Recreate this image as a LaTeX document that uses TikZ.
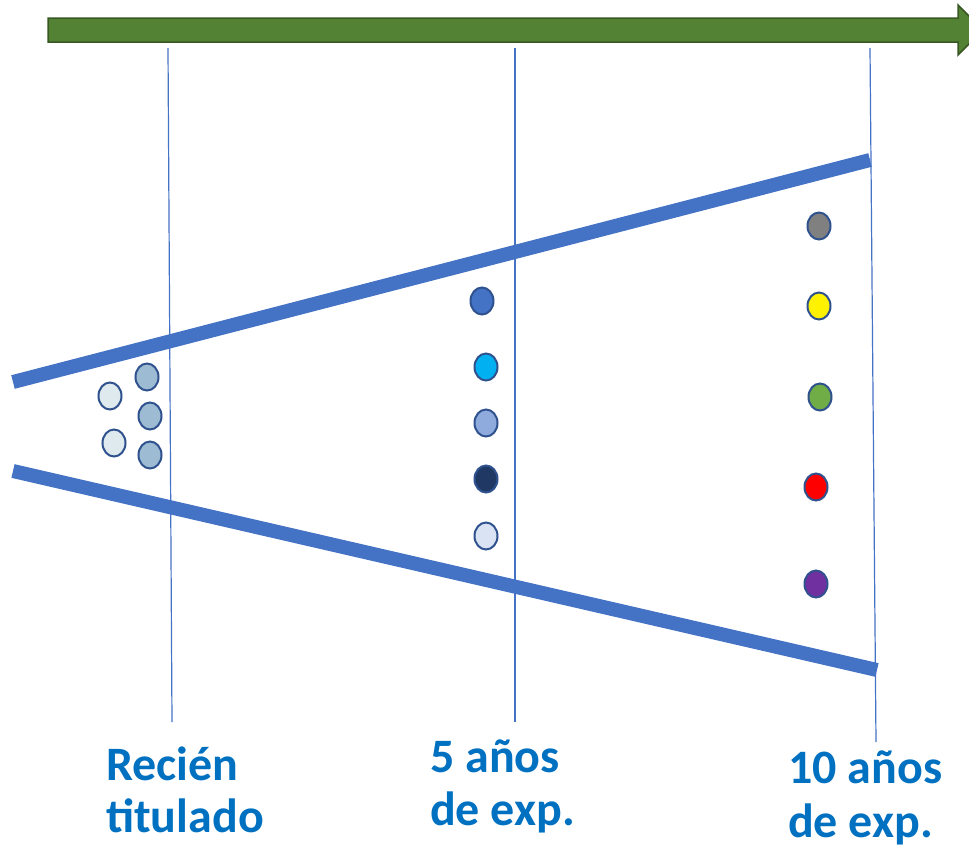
\documentclass[tikz,border=0pt]{standalone}
\usepackage{fontspec}
\setmainfont{Carlito}
\usetikzlibrary{shapes.geometric}

\definecolor{axisgreen}{HTML}{548235}
\definecolor{axisdark}{HTML}{385723}
\definecolor{funnelblue}{HTML}{4472C4}
\definecolor{dotborder}{HTML}{2F528F}
\definecolor{labelblue}{HTML}{0070C0}
\definecolor{palefill}{HTML}{DEEAEE}
\definecolor{slatefill}{HTML}{9DBCD4}

\begin{document}
\begin{tikzpicture}[x=1pt,y=-1pt,
  dot/.style={ellipse,draw=dotborder,line width=2pt,minimum width=23pt,minimum height=27pt,inner sep=0pt},
  stage/.style={draw=funnelblue,line width=1.2pt},
  wall/.style={draw=funnelblue,line width=14pt},
  caption/.style={anchor=base west,inner sep=0pt,text=labelblue,font=\fontsize{48}{54}\selectfont\bfseries}]

  \useasboundingbox (0,0) rectangle (969,849);

  % time axis
  \filldraw[fill=axisgreen,draw=axisdark,line width=1.5pt]
   (48,18) -- (958,18) -- (958,5) -- (983,30) -- (958,55) -- (958,42) -- (48,42) -- cycle;

  % stages
  \draw[stage] (168,48) -- (172,722);
  \draw[stage] (515,48) -- (515,722);
  \draw[stage] (870,48) -- (876,742);

  % funnel
  \draw[wall] (13,382) -- (870,160);
  \draw[wall] (13,471) -- (877,670);

  % recien titulado
  \node[dot,fill=palefill] (a1) at (110,396) {};
  \node[dot,fill=palefill] (a2) at (114,443) {};
  \node[dot,fill=slatefill] (a3) at (147,377) {};
  \node[dot,fill=slatefill] (a4) at (150,416) {};
  \node[dot,fill=slatefill] (a5) at (150,455) {};

  % 5 anos
  \node[dot,fill=funnelblue] (b1) at (482,301) {};
  \node[dot,fill={rgb,255:red,0;green,176;blue,240}] (b2) at (486,367) {};
  \node[dot,fill={rgb,255:red,143;green,170;blue,220}] (b3) at (486,423) {};
  \node[dot,fill={rgb,255:red,32;green,56;blue,100}] (b4) at (486,479) {};
  \node[dot,fill={rgb,255:red,218;green,227;blue,243}] (b5) at (486,536) {};

  % 10 anos
  \node[dot,fill=gray] (c1) at (819,226) {};
  \node[dot,fill=yellow] (c2) at (819,306) {};
  \node[dot,fill={rgb,255:red,112;green,173;blue,71}] (c3) at (820,397) {};
  \node[dot,fill=red] (c4) at (816,487) {};
  \node[dot,fill={rgb,255:red,112;green,48;blue,160}] (c5) at (816,584) {};

  % captions
  \node[caption] (la1) at (106,780) {Recién};
  \node[caption] (la2) at (106,832) {titulado};
  \node[caption] (lb1) at (430,772) {5 años};
  \node[caption] (lb2) at (430,825) {de exp.};
  \node[caption] (lc1) at (788,783) {10 años};
  \node[caption] (lc2) at (788,837) {de exp.};

\end{tikzpicture}
\end{document}
